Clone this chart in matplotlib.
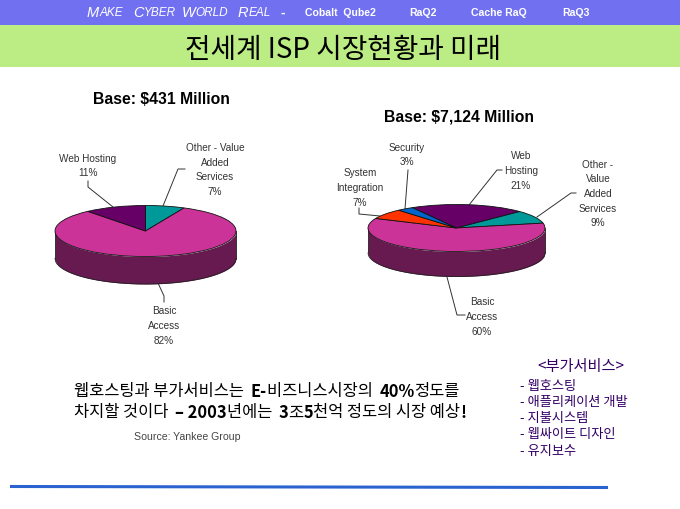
import numpy as np
import matplotlib
matplotlib.use("Agg")
import matplotlib.pyplot as plt

KR = ["Noto Sans CJK KR", "DejaVu Sans"]
LAT = ["Liberation Sans", "DejaVu Sans"]

#pie data
left_labels = ["Other - Value\nAdded\nServices\n7%", "Basic\nAccess\n82%", "Web Hosting\n11%"]
left_values = [7, 82, 11]
right_labels = ["Web\nHosting\n21%", "Other -\nValue\nAdded\nServices\n9%", "Basic\nAccess\n60%",
                "System\nIntegration\n7%", "Security\n3%"]
right_values = [21, 9, 60, 7, 3]

#texts
title = "전세계 ISP 시장현황과 미래"
slogan = ["Make", "Cyber", "World", "Real"]
products = ["Cobalt  Qube2", "RaQ2", "Cache RaQ", "RaQ3"]
services_title = "<부가서비스>"
services = ["- 웹호스팅", "- 애플리케이션 개발", "- 지불시스템", "- 웹싸이트 디자인", "- 유지보수"]
note1 = [("웹호스팅과 부가서비스는 ", "normal"), ("E-", "bold"), ("비즈니스시장의 ", "normal"),
         ("40%", "bold"), ("정도를", "normal")]
note2 = [("차지할 것이다 ", "normal"), ("– 2003", "bold"), ("년에는 ", "normal"), ("3", "bold"),
         ("조", "normal"), ("5", "bold"), ("천억 정도의 시장 예상", "normal"), ("!", "bold")]

PINK = "#CC3399"
PURPLE = "#660066"
TEAL = "#009999"
SIDE = "#661A50"
ORANGE = "#FF3300"
BLUE = "#0066CC"
TEXT = "#333333"

fig = plt.figure(figsize=(6.8, 5.1), dpi=100, facecolor="white")
ax = fig.add_axes([0, 0, 1, 1])
ax.set_xlim(0, 680)
ax.set_ylim(510, 0)
ax.axis("off")


def pie3d(cx, cy, rx, ry, depth, values, colors, start):
    a = fig.add_axes([(cx - rx) / 680, (510 - cy - ry) / 510, 2 * rx / 680, 2 * ry / 510])
    a.patch.set_alpha(0)
    a.pie(values, colors=colors, startangle=start, counterclock=False, radius=1,
          wedgeprops={"edgecolor": "#111111", "linewidth": 0.6})
    #the side wall of the drum, seen under the front half
    d = depth / ry
    xs = np.linspace(-1, 1, 300)
    low = -np.sqrt(1 - xs ** 2)
    a.fill_between(xs, low, low - d, color=SIDE, zorder=0, clip_on=False, lw=0)
    a.plot(xs, low - d, color="#222222", lw=0.6, zorder=0.5, clip_on=False)
    a.plot([-1, -1], [0, -d], color="#222222", lw=0.6, zorder=0.5, clip_on=False)
    a.plot([1, 1], [0, -d], color="#222222", lw=0.6, zorder=0.5, clip_on=False)
    a.set_aspect("auto")
    a.set_xlim(-1, 1)
    a.set_ylim(-1, 1)
    a.axis("off")


def runs(x, y, parts, size, color):
    #write pieces of one line next to each other, each with its own weight
    r = fig.canvas.get_renderer()
    for s, w in parts:
        t = ax.text(x, y, s, family=KR, fontsize=size, weight=w, color=color, va="center", ha="left")
        x = ax.transData.inverted().transform(
            (t.get_window_extent(r).x1, 0))[0] + (3 if s.endswith(" ") else 0)


def label(x, y, s):
    ax.text(x, y, s, family=LAT, fontsize=7.2, color=TEXT, ha="center", va="center", linespacing=1.58)


#header bands
ax.fill_between([0, 680], 0, 26, color="#7070F0", lw=0)
ax.fill_between([0, 680], 26, 68, color="#BCEC84", lw=0)

#small caps slogan, big first letter and small rest
r = fig.canvas.get_renderer()
for x, word in zip([87, 133, 182, 238], slogan):
    t = ax.text(x, 13, word[0], family=LAT, style="italic", fontsize=10.5, color="white", va="center")
    x = ax.transData.inverted().transform((t.get_window_extent(r).x1, 0))[0]
    ax.text(x, 13.5, word[1:].upper(), family=LAT, style="italic", fontsize=8.5, color="white", va="center")
ax.text(283, 13, "-", family=LAT, fontsize=10, weight="bold", color="white", ha="center", va="center")
for px, s in zip([340, 422.5, 499, 575.5], products):
    ax.text(px, 13, s, family=LAT, fontsize=7.6, weight="bold", color="white", ha="center", va="center")

ax.text(343, 50, title, family=KR, fontsize=20, color="black", ha="center", va="center")

ax.text(161, 99, "Base: $431 Million", family=LAT, fontsize=11.3, weight="bold", color="black", ha="center", va="center")
ax.text(459, 117, "Base: $7,124 Million", family=LAT, fontsize=11.3, weight="bold", color="black", ha="center", va="center")

pie3d(145.5, 232, 90.5, 25.5, 27.5, left_values, [TEAL, PINK, PURPLE], 90)
pie3d(456.5, 229, 88.5, 23.5, 25, right_values, [PURPLE, TEAL, PINK, ORANGE, BLUE], 120)

#leader lines
for pts in [[(185, 170), (178, 170), (163, 207)],
            [(88, 182), (88, 188), (113, 208)],
            [(158, 284), (164, 297), (164, 303)],
            [(408, 171), (405, 210)],
            [(502, 171), (497, 171), (469, 206)],
            [(359, 209), (359, 215), (380, 217)],
            [(576, 194), (571, 194), (537, 218)],
            [(447, 278), (457, 316), (465, 316)]]:
    ax.plot(*zip(*pts), color="#333333", lw=0.7)

for (px, py), s in zip([(215, 170), (164, 326), (88, 166)], left_labels):
    label(px, py, s)
for (px, py), s in zip([(521, 171), (598, 194), (482, 317), (360, 188), (407, 155)], right_labels):
    label(px, py, s)

runs(74, 392, note1, 11.85, "black")
runs(74, 413, note2, 11.85, "black")
ax.text(134, 437, "Source: Yankee Group", family=LAT, fontsize=7.6, color="#444444", va="center")

ax.text(581, 367, services_title, family=KR, fontsize=11, color="#330066", ha="center", va="center")
for py, s in zip([387, 403, 419, 435, 452], services):
    ax.text(520, py, s, family=KR, fontsize=9.5, color="#330066", va="center")

ax.plot([10, 608], [487.5, 488.5], color="#2A62D0", lw=2.2, solid_capstyle="butt")

fig.savefig("out.png", dpi=100)
